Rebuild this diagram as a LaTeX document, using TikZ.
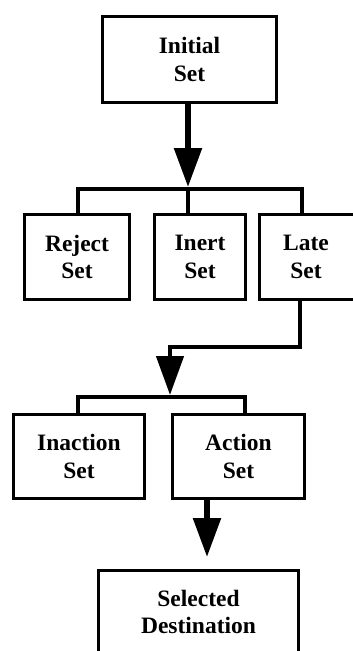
\documentclass[tikz,border=0pt]{standalone}
\usepackage{fontspec}
\setmainfont{Liberation Serif}
\usetikzlibrary{arrows.meta}
\tikzset{
  setbox/.style={draw, line width=3pt, inner sep=0pt, align=center,
    font=\bfseries\fontsize{23.5}{27.5}\selectfont},
  bar/.style={line width=3.5pt},
  stem/.style={line width=5.5pt, -{Triangle[width=27pt,length=39pt]}},
}
\begin{document}
\begin{tikzpicture}[x=1pt,y=-1pt]
\useasboundingbox (0,0) rectangle (353,651);
\clip (0,0) rectangle (353,651);
\node[setbox, minimum width=174pt, minimum height=86pt] (init) at (189.5,59.5) {Initial\\Set};
\node[setbox, minimum width=105pt, minimum height=85pt] (reject) at (77,257) {Reject\\Set};
\node[setbox, minimum width=91pt, minimum height=85pt] (inert) at (200,257) {Inert\\Set};
\node[setbox, minimum width=99pt, minimum height=85pt] (late) at (309,257) {\hspace*{-6pt}Late\\\hspace*{-6pt}Set};
\node[setbox, minimum width=131pt, minimum height=84pt] (inaction) at (79,456.5) {Inaction\\Set};
\node[setbox, minimum width=132pt, minimum height=84pt] (action) at (238.5,456.5) {Action\\Set};
\node[setbox, minimum width=200pt, minimum height=83pt] (sel) at (198.5,612) {Selected\\Destination};
% first split
\coordinate (b1L) at (78,189);
\coordinate (b1M) at (188,189);
\coordinate (b1R) at (302,189);
\draw[stem] (init.south -| b1M) -- ([yshift=2pt]b1M);
\draw[bar] (b1L |- reject.north) -- (b1L) -- (b1R) -- (b1R |- late.north);
\draw[bar] (b1M) -- (b1M |- inert.north);
% from late set
\coordinate (k1) at (300,347);
\coordinate (k2) at (170,347);
\coordinate (b2L) at (78,397);
\coordinate (b2M) at (170,397);
\coordinate (b2R) at (245,397);
\draw[stem, line width=4.5pt] (late.south -| k1) -- (k1) -- (k2) -- ([yshift=2pt]b2M);
\draw[bar] (b2L |- inaction.north) -- (b2L) -- (b2R) -- (b2R |- action.north);
% from action set
\coordinate (c1) at (207,557);
\draw[stem] (action.south -| c1) -- (c1);
\end{tikzpicture}
\end{document}
